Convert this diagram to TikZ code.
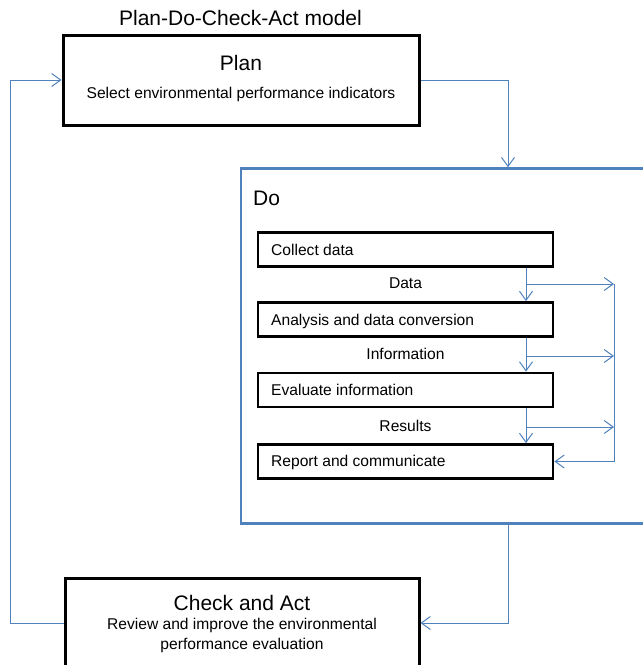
\documentclass[tikz,border=0pt]{standalone}
\usepackage{fontspec}
\setmainfont{Liberation Sans}
\usetikzlibrary{arrows.meta}
\definecolor{pdcablue}{RGB}{79,129,189}
\begin{document}
\begin{tikzpicture}[x=1pt,y=-1pt,
  bigbox/.style={draw=black, line width=3pt, inner sep=0pt, minimum width=356pt},
  stagebox/.style={draw=black, line width=2.8pt, inner sep=0pt, minimum width=295pt, minimum height=34pt},
  dobox/.style={draw=pdcablue, line width=2.6pt, inner sep=0pt},
  conn/.style={draw=pdcablue, line width=1pt, -{Straight Barb[length=9pt,width=13pt,line width=1pt]}},
  headtext/.style={font=\fontsize{21}{24}\selectfont, anchor=base, inner sep=0pt},
  bodytext/.style={font=\fontsize{15.6}{19}\selectfont, anchor=base, inner sep=0pt},
  steptext/.style={font=\fontsize{15.6}{19}\selectfont, anchor=base west, inner sep=0pt}]
\useasboundingbox (0,0) rectangle (643,665);
\clip (0,0) rectangle (643,665);

% title
\node[headtext] (title) at (240.5,25) {Plan-Do-Check-Act model};

% Plan
\node[bigbox, minimum height=90pt] (plan) at (241,80) {};
\node[headtext] (plantitle) at (241,70) {Plan};
\node[bodytext] (plantext) at (241,98) {Select environmental performance indicators};

% Do
\node[dobox, minimum width=419pt, minimum height=355pt] (doarea) at (450.5,346) {};
\node[headtext, anchor=base west] (dotitle) at (253,205) {Do};

\node[stagebox] (collect)  at (405.5,249.5) {};
\node[stagebox] (analysis) at (405.5,319.5) {};
\node[stagebox] (evaluate) at (405.5,390) {};
\node[stagebox] (report)   at (405.5,461.5) {};

\node[steptext] (collecttext)  at (271,255) {Collect data};
\node[steptext] (analysistext) at (271,325) {Analysis and data conversion};
\node[steptext] (evaluatetext) at (271,395.5) {Evaluate information};
\node[steptext] (reporttext)   at (271,466.5) {Report and communicate};

\node[bodytext] (datalabel) at (405.5,288) {Data};
\node[bodytext] (infolabel) at (405.5,359) {Information};
\node[bodytext] (reslabel)  at (405.5,431) {Results};

% Check and Act
\node[bigbox, minimum width=354pt, minimum height=90pt] (check) at (242,623) {};
\node[headtext] (checktitle) at (242,610) {Check and Act};
\node[bodytext] (checktext1) at (242,629) {Review and improve the environmental};
\node[bodytext] (checktext2) at (242,649) {performance evaluation};

% connector guides
\coordinate (dox) at (508,0);
\coordinate (lx) at (10,0);
\coordinate (vx) at (526,0);
\coordinate (rx) at (614,0);
\coordinate (b1) at (526,284);
\coordinate (b2) at (526,356);
\coordinate (b3) at (526,427);

% main cycle
\draw[conn] (plan.east) -| (dox |- doarea.north);
\draw[conn] (dox |- doarea.south) |- (check.east);
\draw[conn] (check.west) -| (lx |- plan.west) -- (plan.west);

% flow inside Do
\draw[conn] (vx |- collect.south) -- (vx |- analysis.north);
\draw[conn] (vx |- analysis.south) -- (vx |- evaluate.north);
\draw[conn] (vx |- evaluate.south) -- (vx |- report.north);
\draw[conn] (b1) -- (b1 -| rx);
\draw[conn] (b2) -- (b2 -| rx);
\draw[conn] (b3) -- (b3 -| rx);
\draw[conn] (b1 -| rx) |- (report.east);
\end{tikzpicture}
\end{document}
